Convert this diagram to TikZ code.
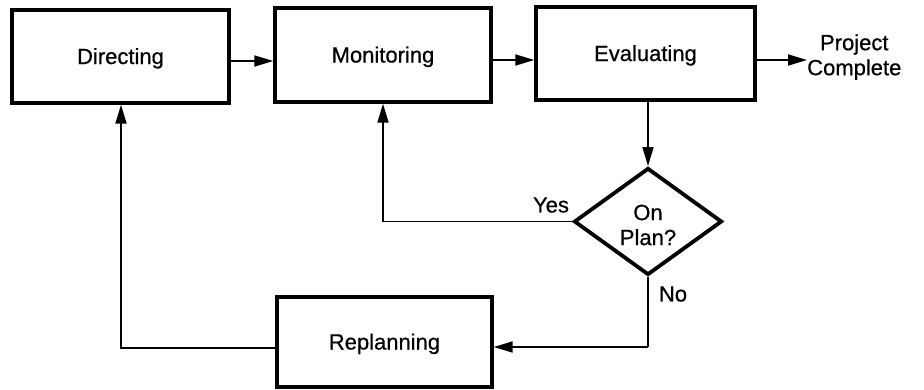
\documentclass[tikz,border=0pt]{standalone}
\usepackage{fontspec}
\setmainfont{Liberation Sans}[FakeBold=0.6]
\usetikzlibrary{arrows.meta,shapes.geometric}
\begin{document}
\begin{tikzpicture}[x=1pt,y=-1pt,
  box/.style={draw, line width=3.4pt, rectangle, inner sep=0pt, text height=16pt, text depth=1pt, font=\fontsize{22}{26}\selectfont},
  dec/.style={draw, line width=3.8pt, diamond, inner sep=0pt, minimum width=148pt, minimum height=107pt},
  lbl/.style={font=\fontsize{22}{25}\selectfont, inner sep=0pt, align=center},
  conn/.style={line width=1.8pt, -{Triangle[length=19pt,width=11pt]}},
  plain/.style={line width=1.8pt}]
\useasboundingbox (0,0) rectangle (924,389);
\node[box, minimum width=217pt, minimum height=93pt] (dir) at (120.5,56.5) {Directing};
\node[box, minimum width=216pt, minimum height=94pt] (mon) at (383,55) {Monitoring};
\node[box, minimum width=219pt, minimum height=93pt] (eva) at (645.5,53.5) {Evaluating};
\node[box, minimum width=215pt, minimum height=90pt] (rep) at (384.5,342) {Replanning};
\node[dec] (dia) at (648,221.5) {};
\node[lbl] (diat) at (648,225) {On\\Plan?};
\node[lbl, anchor=west] (pc) at (807,57) {Project\\Complete};
\node[lbl] (yes) at (551,205) {Yes};
\node[lbl] (no) at (673,294) {No};
\coordinate (yc) at (383,221.5);
\coordinate (nc) at (648,347);
\coordinate (rc) at (121,348);
\draw[conn] (dir.east |- 0,61) -- (mon.west |- 0,61);
\draw[conn] (mon.east |- 0,60) -- (eva.west |- 0,60);
\draw[conn] (eva.east |- 0,60) -- (pc.west |- 0,60);
\draw[conn] (eva.south -| dia.north) -- (dia.north);
\draw[conn] (dia.west) -- (yc) -- (mon.south -| yc);
\draw[plain] (dia.south) -- (nc);
\draw[conn] (nc) -- (rep.east |- nc);
\draw[conn] (rep.west |- rc) -- (rc) -- (dir.south -| rc);
\end{tikzpicture}
\end{document}
